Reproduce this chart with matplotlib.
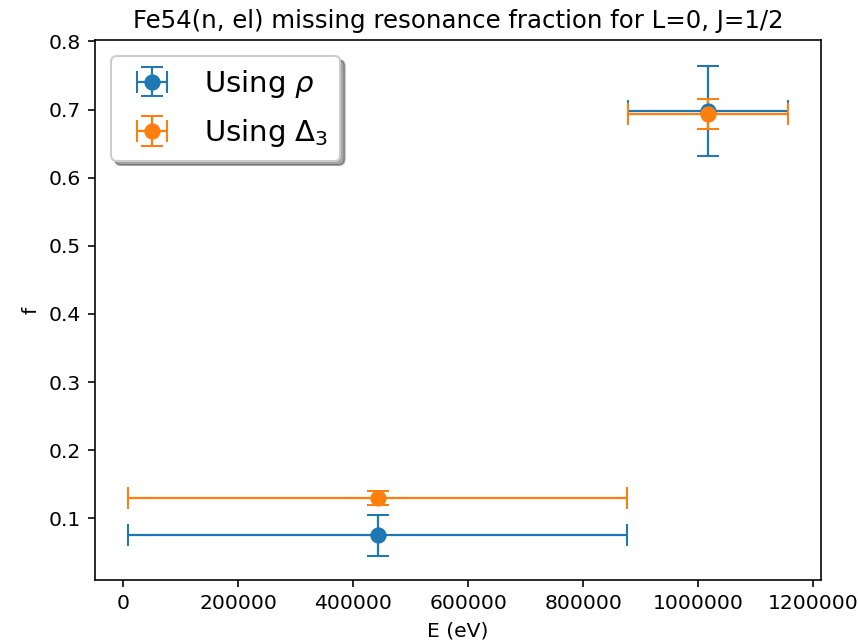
import matplotlib
matplotlib.use("Agg")
import matplotlib.pyplot as plt

# Data
energy_centers = [442850, 1016700]
energy_halfwidth = [434150, 139500]
f_rho = [0.0755, 0.698]
f_rho_err = [0.030, 0.066]
f_delta3 = [0.130, 0.693]
f_delta3_err = [0.010, 0.022]
labels = [r"Using $\rho$", r"Using $\Delta_3$"]

dpi = 146
fig = plt.figure(figsize=(858 / dpi, 642 / dpi), dpi=dpi)
ax = fig.add_axes([95 / 858, 62 / 642, 726 / 858, 540 / 642])

ax.errorbar(energy_centers, f_rho, xerr=energy_halfwidth, yerr=f_rho_err,
            fmt='o', capsize=5.5, color='#1f77b4', lw=1.1, markersize=7,
            label=labels[0])
ax.errorbar(energy_centers, f_delta3, xerr=energy_halfwidth, yerr=f_delta3_err,
            fmt='o', capsize=5.5, color='#ff7f0e', lw=1.1, markersize=7,
            label=labels[1])

ax.ticklabel_format(axis='x', style='plain', useOffset=False)
ax.set_xticks([0, 200000, 400000, 600000, 800000, 1000000, 1200000])
ax.set_ylim(top=0.802)
ax.set_title("Fe54(n, el) missing resonance fraction for L=0, J=1/2", fontsize=12)
ax.set_xlabel("E (eV)")
ax.set_ylabel("f")
ax.legend(loc='upper left', fontsize=14.4, shadow=True, fancybox=True,
          borderaxespad=0.55, labelspacing=0.6)

fig.savefig("out.png", dpi=dpi)
